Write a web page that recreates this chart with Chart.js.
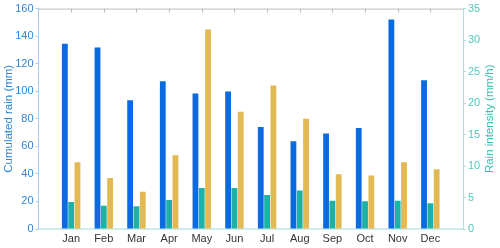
<!DOCTYPE html>
<html>
<head>
<meta charset="utf-8">
<script src="https://cdn.jsdelivr.net/npm/chart.js@4.4.1/dist/chart.umd.min.js"></script>
<style>
  html, body { margin: 0; padding: 0; background: #fff; }
  #wrap { width: 500px; height: 248px; position: relative; }
</style>
</head>
<body>
<div id="wrap"><canvas id="chart"></canvas></div>
<script>
const categories = ["Jan", "Feb", "Mar", "Apr", "May", "Jun", "Jul", "Aug", "Sep", "Oct", "Nov", "Dec"];
const cumulatedRain = [134.5, 131.8, 93.4, 107.2, 98.3, 99.9, 74.1, 63.7, 69.3, 73.4, 152.1, 107.9];
const meanIntensity = [4.3, 3.7, 3.6, 4.6, 6.5, 6.5, 5.4, 6.1, 4.5, 4.4, 4.5, 4.1];
const maxIntensity = [10.6, 8.1, 5.9, 11.7, 31.7, 18.6, 22.8, 17.5, 8.7, 8.5, 10.6, 9.5];
const leftTicks = [0, 20, 40, 60, 80, 100, 120, 140, 160];
const rightTicks = [0, 5, 10, 15, 20, 25, 30, 35];

const FONT = "'Liberation Sans', Arial, sans-serif";
const BLUE = "#0a6ae0";
const TEAL = "#1cb3a6";
const GOLD = "#e2b952";

const points = (values) => values.map((v, i) => ({ x: i + 1, y: v }));

// top border with inward ticks + right title reading bottom-to-top
const frame = {
  id: "frame",
  afterDraw(chart) {
    const { ctx, chartArea, scales } = chart;
    ctx.save();
    ctx.strokeStyle = "#bdbdbd";
    ctx.lineWidth = 1;
    ctx.beginPath();
    ctx.moveTo(chartArea.left, chartArea.top + 0.5);
    ctx.lineTo(chartArea.right, chartArea.top + 0.5);
    categories.forEach((c, i) => {
      const x = Math.round(scales.x.getPixelForValue(i + 1)) + 0.5;
      ctx.moveTo(x, chartArea.top);
      ctx.lineTo(x, chartArea.top + 4);
    });
    ctx.stroke();

    ctx.translate(490, (chartArea.top + chartArea.bottom) / 2);
    ctx.rotate(-Math.PI / 2);
    ctx.fillStyle = "#3dbfb3";
    ctx.font = "11.5px " + FONT;
    ctx.textAlign = "center";
    ctx.textBaseline = "middle";
    ctx.fillText("Rain intensity (mm/h)", 0, 0);
    ctx.restore();
  }
};

new Chart(document.getElementById("chart"), {
  type: "bar",
  data: {
    datasets: [
      { label: "Cumulated rain", data: points(cumulatedRain), backgroundColor: BLUE, yAxisID: "y" },
      { label: "Mean intensity", data: points(meanIntensity), backgroundColor: TEAL, yAxisID: "y1" },
      { label: "Max intensity", data: points(maxIntensity), backgroundColor: GOLD, yAxisID: "y1" }
    ]
  },
  options: {
    responsive: true,
    maintainAspectRatio: false,
    animation: false,
    layout: { padding: { top: 8, left: 0, right: 0, bottom: 0 } },
    datasets: { bar: { categoryPercentage: 0.58, barPercentage: 0.92 } },
    plugins: { legend: { display: false }, tooltip: { enabled: false } },
    scales: {
      x: {
        type: "linear",
        min: 0,
        max: 13,
        offset: false,
        afterFit: (s) => { s.height = 19; },
        afterBuildTicks: (s) => { s.ticks = categories.map((c, i) => ({ value: i + 1 })); },
        ticks: {
          autoSkip: false,
          maxRotation: 0,
          padding: 3,
          color: "#333",
          font: { family: FONT, size: 11 },
          callback: (v) => categories[v - 1] || ""
        },
        grid: { display: false, drawTicks: false, tickLength: 0 },
        border: { display: true, color: "#cdeceb", width: 2 }
      },
      y: {
        position: "left",
        min: 0,
        max: 160,
        afterFit: (s) => { s.width = 38.5; },
        afterBuildTicks: (s) => { s.ticks = leftTicks.map((v) => ({ value: v })); },
        ticks: { color: "#2f86d6", padding: 2, font: { family: FONT, size: 11 } },
        grid: { drawOnChartArea: false, drawTicks: true, tickLength: 3, color: "#a9cdee" },
        border: { display: true, color: "#a9cdee", width: 1 },
        title: {
          display: true,
          text: "Cumulated rain (mm)",
          color: "#2f86d6",
          padding: { top: 2, bottom: 0 },
          font: { family: FONT, size: 11.5 }
        }
      },
      y1: {
        position: "right",
        min: 0,
        max: 35,
        afterFit: (s) => { s.width = 37; },
        afterBuildTicks: (s) => { s.ticks = rightTicks.map((v) => ({ value: v })); },
        ticks: { color: "#54c9bf", padding: 2, font: { family: FONT, size: 11 } },
        grid: { drawOnChartArea: false, drawTicks: true, tickLength: 3, color: "#a8e0dc" },
        border: { display: true, color: "#a8e0dc", width: 1 }
      }
    }
  },
  plugins: [frame]
});
</script>
</body>
</html>
